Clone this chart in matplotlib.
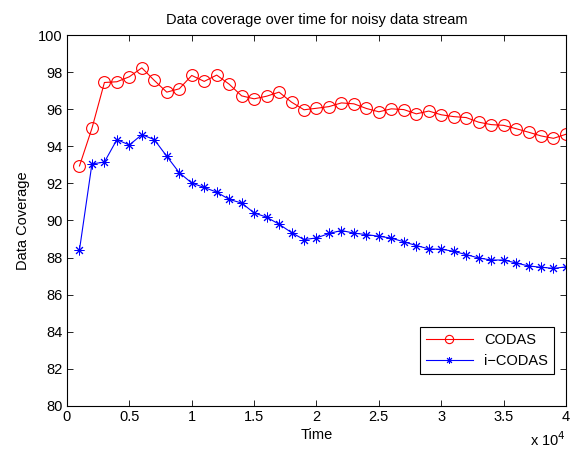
import matplotlib.pyplot as plt
import numpy as np
from matplotlib.ticker import FuncFormatter

plt.rcParams["font.family"] = ["Liberation Sans", "DejaVu Sans"]

time = np.arange(1000, 41000, 1000)

codas = [
    92.94, 94.97, 97.44, 97.48, 97.75, 98.23, 97.55, 96.92, 97.10, 97.82,
    97.50, 97.84, 97.35, 96.72, 96.56, 96.70, 96.92, 96.38, 95.97, 96.05,
    96.14, 96.34, 96.29, 96.04, 95.86, 96.02, 95.98, 95.75, 95.90, 95.70,
    95.60, 95.55, 95.30, 95.17, 95.13, 94.95, 94.76, 94.56, 94.43, 94.65,
]

icodas = [
    88.41, 93.05, 93.15, 94.36, 94.07, 94.63, 94.36, 93.46, 92.58, 92.02,
    91.78, 91.53, 91.14, 90.94, 90.41, 90.18, 89.80, 89.35, 88.97, 89.06,
    89.30, 89.46, 89.32, 89.24, 89.15, 89.05, 88.85, 88.65, 88.47, 88.45,
    88.34, 88.16, 87.98, 87.87, 87.87, 87.71, 87.55, 87.48, 87.42, 87.50,
]

x_ticks = np.arange(0, 40001, 5000)
y_ticks = np.arange(80, 101, 2)


def main() -> None:
    fig = plt.figure(figsize=(5.79, 4.5), dpi=100)
    fig.patch.set_facecolor("white")
    ax = fig.add_axes([0.1157, 0.0978, 0.8618, 0.8244])

    ax.plot(time, codas, color="red", lw=0.8, marker="o", markersize=8.5,
            markerfacecolor="none", markeredgewidth=0.8, label="CODAS")
    ax.plot(time, icodas, color="blue", lw=0.8, marker=(8, 2, 0), markersize=7,
            markeredgewidth=0.7, label="i\u2212CODAS")

    ax.set_xlim(0, 40000)
    ax.set_ylim(80, 100)
    ax.set_xticks(x_ticks)
    ax.set_yticks(y_ticks)
    ax.xaxis.set_major_formatter(FuncFormatter(lambda v, p: f"{v / 1e4:g}"))

    ax.tick_params(direction="in", top=True, right=True, labelsize=10.5,
                   length=4, width=0.6, pad=3)
    for sp in ax.spines.values():
        sp.set_linewidth(0.8)

    ax.set_title("Data coverage over time for noisy data stream", fontsize=10.5, pad=8)
    ax.set_xlabel("Time", fontsize=10.5, labelpad=3)
    ax.set_ylabel("Data Coverage", fontsize=10.5, labelpad=6)
    ax.text(1.0, -0.09, r"x 10$^{4}$", transform=ax.transAxes, ha="right",
            va="center", fontsize=10.5)

    leg = ax.legend(loc="lower right", bbox_to_anchor=(0.976, 0.086),
                    borderaxespad=0, fancybox=False, edgecolor="black",
                    fontsize=10.5, markerscale=0.7, handlelength=3.2,
                    framealpha=1)
    leg.get_frame().set_linewidth(0.8)

    fig.savefig("out.png", dpi=100)
    plt.close(fig)


if __name__ == "__main__":
    main()
